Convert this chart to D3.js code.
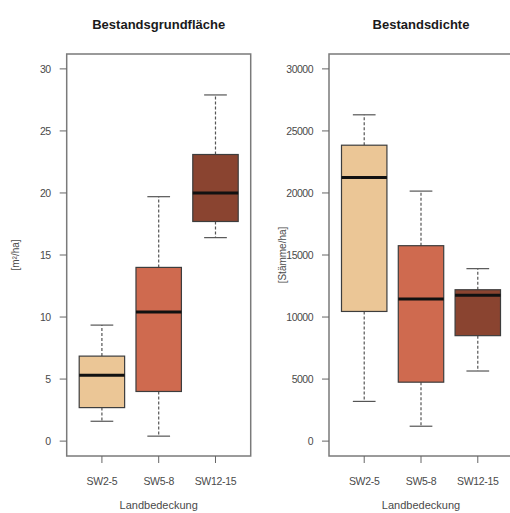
<!DOCTYPE html>
<html>
<head>
<meta charset="utf-8">
<script src="https://cdn.jsdelivr.net/npm/d3@7"></script>
<style>
  body { margin: 0; background: #fff; }
  svg { display: block; font-family: "Liberation Sans", Arial, sans-serif; }
</style>
</head>
<body>
<svg id="chart" width="510" height="513"></svg>
<script>
// categories and box colours
const categories = ["SW2-5", "SW5-8", "SW12-15"];
const boxColors = ["#ebc696", "#cf6a4f", "#8a4430"];

// Bestandsgrundfläche [m²/ha]: lower whisker, Q1, median, Q3, upper whisker
const grundLow = [1.6, 0.4, 16.4];
const grundQ1 = [2.7, 4.0, 17.7];
const grundMed = [5.3, 10.4, 20.0];
const grundQ3 = [6.85, 14.0, 23.1];
const grundHigh = [9.35, 19.7, 27.9];
const grundTicks = [0, 5, 10, 15, 20, 25, 30];

// Bestandsdichte [Stämme/ha]
const dichteLow = [3200, 1200, 5650];
const dichteQ1 = [10450, 4750, 8500];
const dichteMed = [21250, 11450, 11750];
const dichteQ3 = [23850, 15750, 12200];
const dichteHigh = [26300, 20150, 13900];
const dichteTicks = [0, 5000, 10000, 15000, 20000, 25000, 30000];

const svg = d3.select("#chart");

function panel(opts) {
    const left = opts.left, right = opts.left + 184;
    const top = 54, bottom = 456;
    const g = svg.append("g");

    const x = d3.scalePoint().domain(categories).range([left, right]).padding(0.62);
    const pad = opts.max * 0.04;
    const y = d3.scaleLinear().domain([-pad, opts.max + pad]).range([bottom, top]);
    const boxW = x.step() * 0.8;

    // title
    g.append("text")
        .attr("x", (left + right) / 2).attr("y", 29)
        .attr("text-anchor", "middle")
        .style("font-size", "13px").style("font-weight", "bold").style("fill", "#1a1a1a")
        .text(opts.title);

    const rows = categories.map((c, i) => ({
        cat: c, low: opts.low[i], q1: opts.q1[i], med: opts.med[i], q3: opts.q3[i], high: opts.high[i], color: boxColors[i]
    }));

    const b = g.selectAll(".box").data(rows).join("g").attr("class", "box");

    // whiskers
    b.append("line")
        .attr("x1", d => x(d.cat)).attr("x2", d => x(d.cat))
        .attr("y1", d => y(d.q3)).attr("y2", d => y(d.high))
        .attr("stroke", "#555").attr("stroke-width", 1.2).attr("stroke-dasharray", "3,2");
    b.append("line")
        .attr("x1", d => x(d.cat)).attr("x2", d => x(d.cat))
        .attr("y1", d => y(d.q1)).attr("y2", d => y(d.low))
        .attr("stroke", "#555").attr("stroke-width", 1.2).attr("stroke-dasharray", "3,2");
    // staples
    ["low", "high"].forEach(k => {
        b.append("line")
            .attr("x1", d => x(d.cat) - boxW / 4).attr("x2", d => x(d.cat) + boxW / 4)
            .attr("y1", d => y(d[k])).attr("y2", d => y(d[k]))
            .attr("stroke", "#555").attr("stroke-width", 1.2);
    });
    b.append("rect")
        .attr("x", d => x(d.cat) - boxW / 2).attr("width", boxW)
        .attr("y", d => y(d.q3)).attr("height", d => y(d.q1) - y(d.q3))
        .attr("fill", d => d.color).attr("stroke", "#3d3d3d").attr("stroke-width", 1.2);
    b.append("line")
        .attr("x1", d => x(d.cat) - boxW / 2).attr("x2", d => x(d.cat) + boxW / 2)
        .attr("y1", d => y(d.med)).attr("y2", d => y(d.med))
        .attr("stroke", "#111").attr("stroke-width", 3);

    // frame
    g.append("rect")
        .attr("x", left).attr("y", top).attr("width", right - left).attr("height", bottom - top)
        .attr("fill", "none").attr("stroke", "#7a7a7a").attr("stroke-width", 1.5);

    // y axis ticks
    const yt = g.selectAll(".yt").data(opts.ticks).join("g").attr("class", "yt");
    yt.append("line")
        .attr("x1", left - 7).attr("x2", left).attr("y1", d => y(d)).attr("y2", d => y(d))
        .attr("stroke", "#666").attr("stroke-width", 1);
    yt.append("text")
        .attr("x", left - 16).attr("y", d => y(d)).attr("dy", "0.35em")
        .attr("text-anchor", "end")
        .style("font-size", "10.5px").style("letter-spacing", "-0.5px").style("fill", "#4a4a4a")
        .text(d => d);

    // x axis ticks
    const xt = g.selectAll(".xt").data(categories).join("g").attr("class", "xt");
    xt.append("line")
        .attr("x1", d => x(d)).attr("x2", d => x(d)).attr("y1", bottom).attr("y2", bottom + 7)
        .attr("stroke", "#666").attr("stroke-width", 1);
    xt.append("text")
        .attr("x", d => x(d)).attr("y", 485)
        .attr("text-anchor", "middle")
        .style("font-size", "10.5px").style("letter-spacing", "-0.3px").style("fill", "#4a4a4a")
        .text(d => d);

    // axis titles
    g.append("text")
        .attr("x", (left + right) / 2).attr("y", 509)
        .attr("text-anchor", "middle")
        .style("font-size", "11px").style("fill", "#4a4a4a")
        .text("Landbedeckung");
    g.append("text")
        .attr("transform", `translate(${opts.ylabX},${(top + bottom) / 2}) rotate(-90)`)
        .attr("text-anchor", "middle")
        .style("font-size", "10px").style("fill", "#4a4a4a")
        .text(opts.ylab);
}

panel({ left: 66.7, max: 30, title: "Bestandsgrundfläche", ylab: "[m²/ha]", ylabX: 19,
        low: grundLow, q1: grundQ1, med: grundMed, q3: grundQ3, high: grundHigh, ticks: grundTicks });
panel({ left: 329, max: 30000, title: "Bestandsdichte", ylab: "[Stämme/ha]", ylabX: 286,
        low: dichteLow, q1: dichteQ1, med: dichteMed, q3: dichteQ3, high: dichteHigh, ticks: dichteTicks });
</script>
</body>
</html>
